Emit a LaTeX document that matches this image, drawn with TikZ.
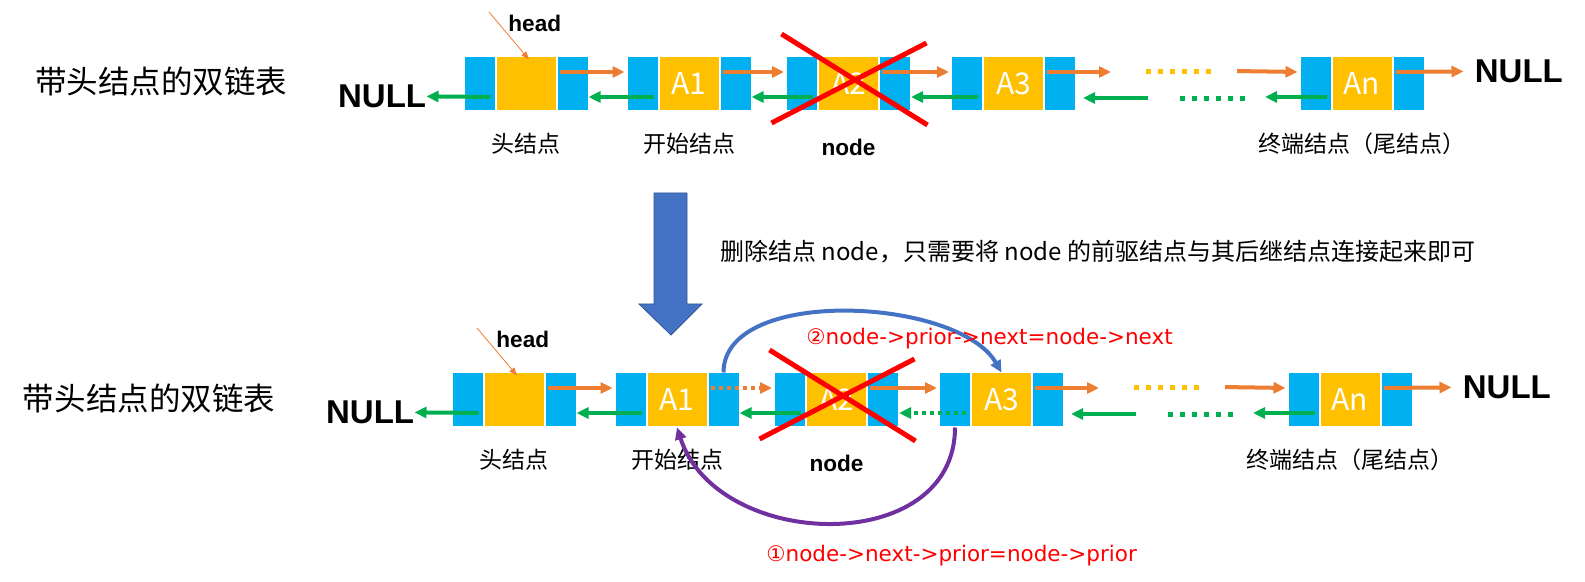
\documentclass[tikz,border=0pt]{standalone}
\usepackage{fontspec}
\setmainfont{Noto Sans CJK SC}
\newfontfamily\arialfont{Liberation Sans}
\newfontfamily\codefont{DejaVu Sans}
\usetikzlibrary{arrows.meta,positioning}

\definecolor{ptrblue}{HTML}{00B0F0}
\definecolor{datayellow}{HTML}{FFC000}
\definecolor{nextorange}{HTML}{ED7D31}
\definecolor{priorgreen}{HTML}{00B050}
\definecolor{stepblue}{HTML}{4472C4}
\definecolor{linkpurple}{HTML}{7030A0}

\tikzset{
  cell/.style={draw=white, line width=0.5pt, minimum height=27pt, inner sep=0pt},
  ptrcell/.style={cell, fill=ptrblue, minimum width=15.5pt},
  datacell/.style={cell, fill=datayellow, minimum width=30pt, text=white, font=\fontsize{15}{15}\selectfont},
  nulltxt/.style={inner sep=0pt, font=\arialfont\bfseries\fontsize{16.5}{16.5}\selectfont},
  nodelabel/.style={inner sep=0pt, font=\fontsize{11.5}{11.5}\selectfont},
  keyword/.style={inner sep=0pt, font=\arialfont\bfseries\fontsize{11.3}{11.3}\selectfont},
  listtitle/.style={inner sep=0pt, font=\fontsize{15.75}{15.75}\selectfont},
  notetxt/.style={inner sep=0pt, font=\fontsize{12}{12}\selectfont},
  formula/.style={inner sep=0pt, text=red, font=\codefont\fontsize{10.75}{10.75}\selectfont},
  linkarr/.style={line width=2pt, -{Triangle[length=6pt,width=5.5pt]}},
  nextarr/.style={linkarr, nextorange, shorten <=1.5pt, shorten >=1pt},
  priorarr/.style={linkarr, priorgreen, shorten <=2.5pt},
  gapdots/.style={line width=2.5pt, dash pattern=on 2.5pt off 3.5pt},
  finedots/.style={dash pattern=on 2pt off 2pt},
  cross/.style={red, line width=2.5pt},
  headptr/.style={nextorange, line width=0.4pt, -{Triangle[length=4pt,width=3pt]}},
}

\begin{document}
\begin{tikzpicture}[x=0.5pt, y=-0.5pt]
  \useasboundingbox (0,0) rectangle (1585,582);
  % the same list twice, the lower copy shifted
  \foreach \row/\sx/\sy in {t/0/0, b/-12/316}{
  \begin{scope}[shift={(\sx,\sy)}]
    \node[listtitle] (\row title) at (161,82) {带头结点的双链表};
    \foreach \nm/\x/\lbl in {h/526/, a1/689/A1, a2/848.5/A2, a3/1013.5/A3, an/1362/An}{
      \node[datacell] (\row\nm) at (\x,84) {\lbl};
      \node[ptrcell, left=0pt of \row\nm] (\row\nm-l) {};
      \node[ptrcell, right=0pt of \row\nm] (\row\nm-r) {};
    }
    \node[nulltxt, left=18.5pt of \row h-l, yshift=-6pt] (\row nl) {NULL};
    \node[nulltxt, right=25pt of \row an-r, yshift=6.5pt] (\row nr) {NULL};
    \node[nodelabel, below=10.5pt of \row h] (\row lh) {头结点};
    \node[nodelabel, below=10.5pt of \row a1] (\row la1) {开始结点};
    \node[keyword, below=13.5pt of \row a2] (\row la2) {node};
    \node[nodelabel, below=10.5pt of \row an] (\row lan) {终端结点（尾结点）};

    \coordinate (\row hp) at (489,12);
    \node[keyword, anchor=north west] (\row head) at (508,15) {head};
    \draw[headptr] (\row hp) -- ([xshift=1.5pt,yshift=-1.5pt]\row h.north);

    \coordinate (\row o1) at (1113,72);
    \coordinate (\row o2) at (1234,71);
    \coordinate (\row y1) at (1146,72);
    \coordinate (\row y2) at (1211,72);
    \coordinate (\row g1) at (1153,98);
    \coordinate (\row g2) at (1083,98);
    \coordinate (\row d1) at (1180,99);
    \coordinate (\row d2) at (1246,99);
    \coordinate (\row g3) at (1265,97);

    \path[nextarr]
      ([yshift=6pt]\row h-r.west) edge ([yshift=6pt]\row a1-l.west)
      ([yshift=6pt]\row a2-r.west) edge ([yshift=6pt]\row a3-l.west)
      ([yshift=6pt]\row a3-r.west) edge (\row o1)
      (\row o2) edge ([yshift=6pt]\row an-l.west)
      ([yshift=6pt]\row an-r.west) edge[shorten >=5.5pt] (\row nr);
    \path[priorarr]
      ([yshift=-6.5pt]\row h-l.east) edge (\row nl)
      ([yshift=-6.5pt]\row a1-l.east) edge ([yshift=-6.5pt]\row h-r.east)
      ([yshift=-6.5pt]\row a2-l.east) edge ([yshift=-6.5pt]\row a1-r.east)
      (\row g1) edge (\row g2)
      ([yshift=-6.5pt]\row an-l.east) edge (\row g3);
    \draw[gapdots, datayellow] (\row y1) -- (\row y2);
    \draw[gapdots, priorgreen] (\row d1) -- (\row d2);

    % node is crossed out
    \draw[cross] ([shift={(-67,-50)}]\row a2.center) -- ([shift={(79,41)}]\row a2.center)
                 ([shift={(-77,39)}]\row a2.center) -- ([shift={(78,-41)}]\row a2.center);
  \end{scope}}

  % links of the first list
  \path[nextarr] ([yshift=6pt]ta1-r.west) edge ([yshift=6pt]ta2-l.west);
  \path[priorarr] ([yshift=-6.5pt]ta3-l.east) edge ([yshift=-6.5pt]ta2-r.east);
  % links of the second list, now bypassed
  \path[nextarr, finedots] ([yshift=6pt]ba1-r.west) edge ([yshift=6pt]ba2-l.west);
  \path[priorarr, finedots] ([yshift=-6.5pt]ba3-l.east) edge ([yshift=-6.5pt]ba2-r.east);

  \filldraw[fill=stepblue, draw=stepblue!75!black, line width=0.4pt]
    (654,193) -- (687,193) -- (687,304) -- (702,304) -- (671,335) -- (639,304) -- (654,304) -- cycle;
  \node[notetxt, anchor=west] (note) at (720,252) {删除结点 node，只需要将 node 的前驱结点与其后继结点连接起来即可};

  \draw[linkarr, stepblue] (ba1-r.north) to[out=90, in=120, looseness=0.8] (ba3.north);
  \draw[linkarr, linkpurple] (ba3-l.south) to[out=-90, in=-72, looseness=1.2] (ba1.south);
  \node[formula, anchor=north west] (step2) at (806,328) {②node->prior->next=node->next};
  \node[formula, anchor=north west] (step1) at (766,545) {①node->next->prior=node->prior};
\end{tikzpicture}
\end{document}
